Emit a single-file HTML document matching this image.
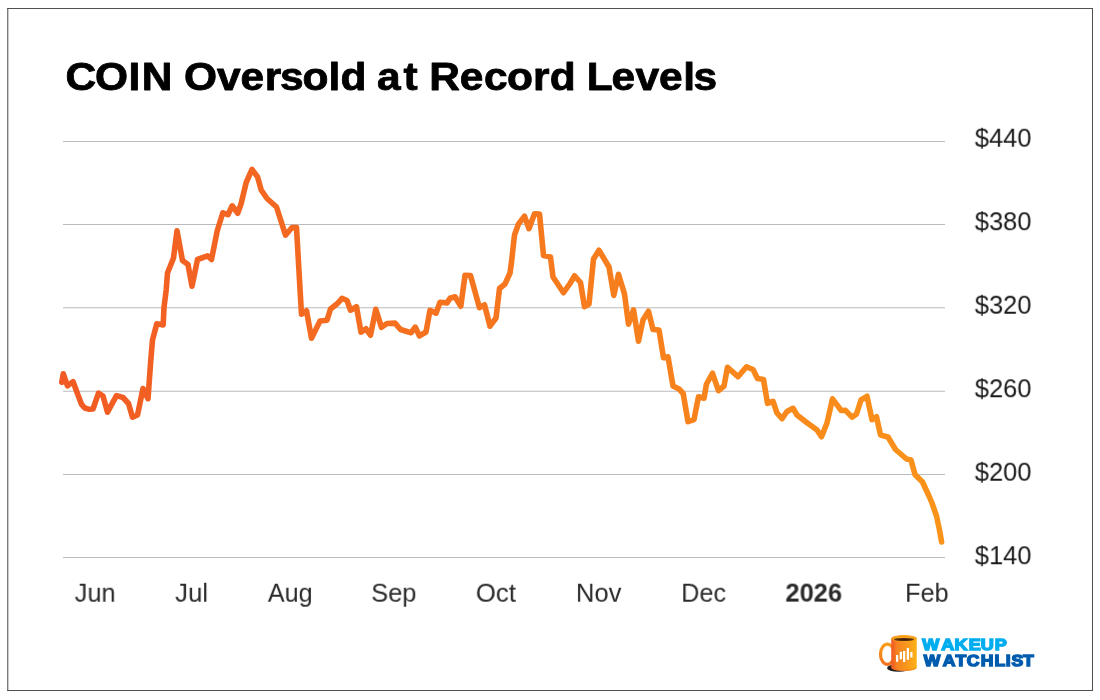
<!DOCTYPE html>
<html lang="en">
<head>
<meta charset="utf-8">
<title>COIN Oversold at Record Levels</title>
<style>
  html, body { margin: 0; padding: 0; background: #ffffff; }
  body { width: 1100px; height: 700px; position: relative; overflow: hidden;
         font-family: "Liberation Sans", sans-serif; }
  .frame { position: absolute; left: 0; top: 0; }
  svg.title { position: absolute; left: 0; top: 0; }
  .yl, .xl { position: absolute; white-space: nowrap; transform-origin: 0 0; display: block; }
  svg.chart { position: absolute; left: 0; top: 0; }
  .yl { font-size: 25.5px; line-height: 25.5px; color: #1a1a1a; }
  .xl { font-size: 25.3px; line-height: 25.3px; color: #2a2a2a; }
  .xl.b { font-weight: 700; }
  svg.logo { position: absolute; left: 0; top: 0; }
</style>
</head>
<body>
<svg class="frame" width="1100" height="700" viewBox="0 0 1100 700">
  <g fill="#505050">
    <rect x="7.25" y="8" width="1085.75" height="1"/>
    <rect x="7.25" y="690" width="1085.75" height="1"/>
    <rect x="7.25" y="8" width="1.05" height="683"/>
    <rect x="1092" y="8" width="1" height="683"/>
  </g>
</svg>
<svg class="title" width="1100" height="120" viewBox="0 0 1100 120" role="heading" aria-level="1" font-family="'Liberation Sans', sans-serif">
  <text transform="scale(1.0901,1.0000)" x="60.20 87.19 117.87 130.00 175.42 168.83 199.07 220.60 242.95 256.84 277.51 301.26 312.29 353.46 345.76 370.18 402.61 393.88 421.69 444.06 465.12 488.90 504.39 545.56 538.34 561.04 582.95 604.62 626.79 636.18" y="90.00" font-size="39" font-weight="700" fill="#000" stroke="#000" stroke-width="0.8" stroke-linejoin="round">COIN Oversold at Record Levels</text>
</svg>

<svg class="chart" width="1100" height="700" viewBox="0 0 1100 700">
  <defs>
    <linearGradient id="lg" gradientUnits="userSpaceOnUse" x1="60" y1="0" x2="943" y2="0">
      <stop offset="0" stop-color="#f15a24"/>
      <stop offset="1" stop-color="#fa9319"/>
    </linearGradient>
  </defs>
  <g fill="#babbbe">
    <rect x="63" y="141" width="882" height="1"/>
    <rect x="63" y="224" width="882" height="1"/>
    <rect x="63" y="307.25" width="882" height="1"/>
    <rect x="63" y="390.75" width="882" height="1"/>
    <rect x="63" y="474" width="882" height="1"/>
    <rect x="63" y="557" width="882" height="1"/>
  </g>
  <path d="M61.8,382.3 L63.3,373.8 L67.5,385.9 L73,381.6 L78,395 L81.6,404.4 L84.7,408 L88.5,409.2 L93,409 L98.5,393.1 L103,396 L107.5,412.2 L116.5,395.6 L123,397.5 L128.5,403.5 L132.5,417.2 L137.5,415 L143,388.6 L148,398.7 L150.8,360 L152.5,340 L156.8,323.8 L163.2,324.9 L164,307.5 L166.2,290 L167.5,273 L173.5,258 L177,230.8 L182.5,260.5 L188,264.5 L192,286.2 L197.5,259.5 L207.5,255.8 L211.5,259.5 L217.2,231 L222.8,212.8 L228,214.7 L232.2,205.8 L237.8,213.2 L241,204 L246.2,182.5 L252,169.3 L257.5,176.8 L261.2,190 L267,198.5 L276.5,207 L285.5,235.2 L292,227.5 L296.5,227.6 L299.2,275 L301.5,314.2 L306.5,310.8 L311.5,338.2 L320,321 L327,320.2 L330.5,309 L337.5,303.5 L342,298.3 L347,300.5 L350.5,310.2 L356.5,306.8 L361,332.2 L366,328.8 L370.5,335.2 L375.8,309.3 L381.5,327.3 L387,323.5 L395,323.1 L400.5,329.5 L411,332.7 L415.2,327.1 L419.5,335.9 L426,332 L430,310.3 L436,313.2 L440,302.3 L447,302.9 L450,298.2 L455,296.8 L460.8,306.2 L465,275.3 L470.5,275.5 L479.5,307.7 L484.5,304.8 L490,326.2 L496,318 L499.5,288.5 L505,284 L510,273 L511.5,262 L514.5,235 L518.5,224 L524.5,216.3 L529,228.7 L534.5,213.8 L539.5,214 L543.5,255.6 L550.5,257 L553,277 L563.5,292.7 L570,283.5 L574.5,275.8 L580.5,282.5 L584.5,306.7 L589,304 L593.5,259 L599,250.3 L609,267 L613.8,295.4 L618.5,274.3 L624.5,294 L628.5,324.2 L633.5,309.8 L638.5,341.2 L643,320 L648.5,311.3 L653,329.5 L659,330 L663.5,357.7 L668,356.8 L673,386 L679,389 L683.2,393.5 L688,421.7 L694,419.5 L698.5,396.8 L704,398.2 L706.5,384 L712.5,373.3 L718.5,390.7 L724,386 L727.5,367.3 L738,376.7 L746.5,366.8 L753,369.5 L757.5,378.6 L763.5,379.5 L767.5,403.4 L773,401.3 L777,413 L782,418.7 L787,411.5 L793,408.3 L797,415 L806,422 L817,430 L821.5,436.7 L827,423 L832.5,398.8 L841.2,410.5 L845.5,410.3 L852,417.2 L856.5,414 L861,400 L867,396.3 L872,419.7 L876.5,416.8 L880.5,435 L888,437 L895.5,449.5 L906.5,459 L911,460 L915,474.5 L922.5,482 L929,496 L932,503 L936.5,516 L939.5,530 L941.6,542" fill="none" stroke="url(#lg)" stroke-width="5.6" stroke-linejoin="round" stroke-linecap="round"/>
</svg>

<div class="ylabels">
<span class="yl" style="left:974px;top:125px;transform:perspective(1000px) translate3d(0.77px,0.75px,0) scale(0.9984,1.0213)">$440</span>
<span class="yl" style="left:974px;top:209px;transform:perspective(1000px) translate3d(0.77px,0.25px,0) scale(0.9984,1.0213)">$380</span>
<span class="yl" style="left:974px;top:292px;transform:perspective(1000px) translate3d(0.77px,0.75px,0) scale(0.9984,1.0213)">$320</span>
<span class="yl" style="left:974px;top:376px;transform:perspective(1000px) translate3d(0.77px,0.25px,0) scale(0.9984,1.0213)">$260</span>
<span class="yl" style="left:974px;top:459px;transform:perspective(1000px) translate3d(0.77px,0.75px,0) scale(0.9984,1.0213)">$200</span>
<span class="yl" style="left:974px;top:543px;transform:perspective(1000px) translate3d(0.77px,0.25px,0) scale(0.9984,1.0213)">$140</span>
</div>

<div class="xlabels">
<span class="xl" style="left:74px;top:580px;transform:perspective(1000px) translate3d(0.68px,0.77px,0) scale(1.0038,1.0111)">Jun</span>
<span class="xl" style="left:175px;top:580px;transform:perspective(1000px) translate3d(0.07px,0.77px,0) scale(1.0189,1.0111)">Jul</span>
<span class="xl" style="left:267px;top:580px;transform:perspective(1000px) translate3d(0.84px,0.77px,0) scale(0.9925,1.0111)">Aug</span>
<span class="xl" style="left:371px;top:580px;transform:perspective(1000px) translate3d(0.23px,0.77px,0) scale(1.0053,1.0111)">Sep</span>
<span class="xl" style="left:475px;top:580px;transform:perspective(1000px) translate3d(0.80px,0.77px,0) scale(1.0205,1.0111)">Oct</span>
<span class="xl" style="left:575px;top:580px;transform:perspective(1000px) translate3d(0.88px,0.77px,0) scale(1.0112,1.0111)">Nov</span>
<span class="xl" style="left:681px;top:580px;transform:perspective(1000px) translate3d(0.22px,0.77px,0) scale(0.9939,1.0111)">Dec</span>
<span class="xl b" style="left:785px;top:580px;transform:perspective(1000px) translate3d(0.42px,0.66px,0) scale(1.0064,1.0216)">2026</span>
<span class="xl" style="left:905px;top:580px;transform:perspective(1000px) translate3d(0.11px,0.77px,0) scale(0.9963,1.0111)">Feb</span>
</div>

<svg class="logo" width="1100" height="700" viewBox="0 0 1100 700" font-family="'Liberation Sans', sans-serif">
  <defs>
    <linearGradient id="mg" gradientUnits="userSpaceOnUse" x1="891" y1="0" x2="917" y2="0">
      <stop offset="0" stop-color="#f05a24"/>
      <stop offset="0.1" stop-color="#f26522"/>
      <stop offset="0.22" stop-color="#f58220"/>
      <stop offset="0.55" stop-color="#f7941e"/>
      <stop offset="1" stop-color="#fcb316"/>
    </linearGradient>
    <radialGradient id="cg" cx="0.5" cy="0.5" r="0.5">
      <stop offset="0" stop-color="#3a1c05"/>
      <stop offset="0.6" stop-color="#4f2a0d"/>
      <stop offset="1" stop-color="#7a4512"/>
    </radialGradient>
    <linearGradient id="hg" gradientUnits="userSpaceOnUse" x1="0" y1="642" x2="0" y2="666">
      <stop offset="0" stop-color="#f9a01b"/>
      <stop offset="1" stop-color="#f37021"/>
    </linearGradient>
  </defs>
  <ellipse cx="898.5" cy="667.9" rx="11.5" ry="3.9" fill="#1f1f1f"/>
  <ellipse cx="887.4" cy="654.2" rx="6.9" ry="10.1" fill="none" stroke="url(#hg)" stroke-width="3.2"/>
  <path d="M891.25,638.6 L891.25,667.4 A12.75,3.6 0 0 0 916.75,667.4 L916.75,638.6 A12.75,3.3 0 0 0 891.25,638.6 Z" fill="url(#mg)"/>
  <path d="M891.6,667.2 A12.4,3.3 0 0 0 916.4,667.2" fill="none" stroke="#f26a21" stroke-width="0.8" opacity="0.7"/>
  <ellipse cx="904" cy="638.5" rx="12.75" ry="3.3" fill="#f9a11b"/>
  <ellipse cx="904" cy="639.5" rx="10.2" ry="1.6" fill="url(#cg)"/>
  <g fill="#ffffff">
    <rect x="896" y="655" width="2.25" height="6.75"/>
    <rect x="899.75" y="651.75" width="2.25" height="7.5"/>
    <rect x="903" y="651" width="2.25" height="11"/>
    <rect x="906.75" y="648" width="2.25" height="11.75"/>
    <rect x="910.25" y="652" width="2.25" height="5.5"/>
  </g>
  <text text-rendering="geometricPrecision" transform="scale(1.1256,1.0000)" x="819.34 836.30 848.09 860.72 871.41 883.83" y="649.55" font-size="16" font-weight="700" fill="#00aeef" stroke="#00aeef" stroke-width="1.4" stroke-linejoin="miter">WAKEUP</text>
  <text text-rendering="geometricPrecision" transform="scale(1.0966,1.0000)" x="842.28 859.76 871.37 881.63 894.31 906.88 917.13 922.34 932.93" y="666.30" font-size="16" font-weight="700" fill="#005cae" stroke="#005cae" stroke-width="1.4" stroke-linejoin="miter">WATCHLIST</text>
</svg>
</body>
</html>
